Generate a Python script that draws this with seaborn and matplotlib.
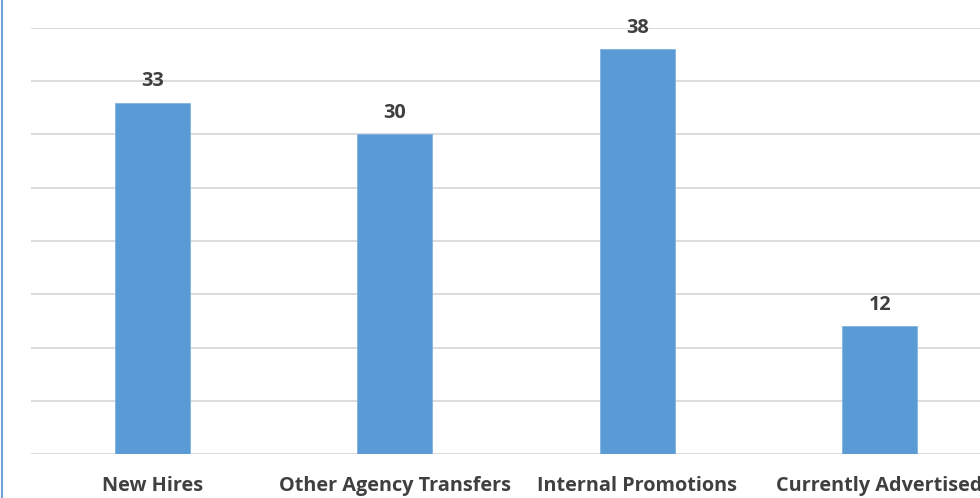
import matplotlib

matplotlib.use("Agg")
import matplotlib.pyplot as plt
import pandas as pd
import seaborn as sns
from matplotlib.lines import Line2D

categories = ["New Hires", "Other Agency Transfers", "Internal Promotions",
              "Currently Advertised"]
counts = [33, 30, 38, 12]

BAR_COLOR = "#5B9BD5"
TEXT_COLOR = "#404040"
GRID_COLOR = "#D9D9D9"

sns.set_theme(style="white")
plt.rcParams["font.family"] = ["Open Sans", "DejaVu Sans"]

df = pd.DataFrame({"category": categories, "count": counts})

fig = plt.figure(figsize=(9.8, 4.98), dpi=100)
# the source image is cropped on the right, so the axes run past the figure edge
ax = fig.add_axes([31 / 980, 44 / 498, 970 / 980, 426 / 498])

sns.barplot(data=df, x="category", y="count", color=BAR_COLOR, width=0.31,
            saturation=1, edgecolor="#7FB2E0", linewidth=0.6, ax=ax, zorder=3)

ax.set_ylim(0, 40)
ax.set_yticks(range(0, 41, 5))
ax.yaxis.grid(True, color=GRID_COLOR, linewidth=1.3, zorder=0)
ax.tick_params(axis="y", left=False, labelleft=False)
ax.tick_params(axis="x", bottom=False, pad=9.5)
for lbl in ax.get_xticklabels():
    lbl.set_fontsize(14.3)
    lbl.set_fontweight("bold")
    lbl.set_color(TEXT_COLOR)
ax.set_xlabel("")
ax.set_ylabel("")
for spine in ax.spines.values():
    spine.set_visible(False)

for i, v in enumerate(counts):
    ax.annotate(f"{v}", (i, v), xytext=(0, 8), textcoords="offset points",
                ha="center", va="bottom", fontsize=14.3, fontweight="bold",
                color=TEXT_COLOR)

# thin blue frame edge on the left of the crop
fig.add_artist(Line2D([1.5 / 980, 1.5 / 980], [0, 1], color="#6FA3D8",
                      linewidth=1.5, transform=fig.transFigure))

fig.savefig("out.png", dpi=100)
